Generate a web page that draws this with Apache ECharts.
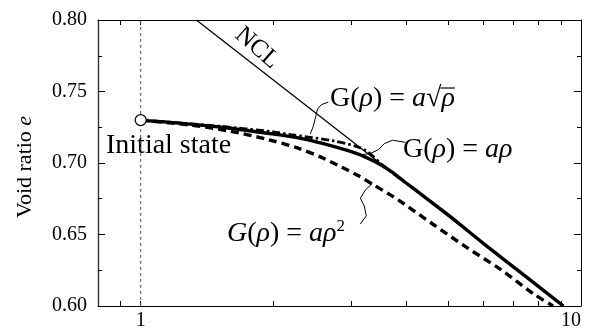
<!DOCTYPE html>
<html>
<head>
<meta charset="utf-8">
<script src="https://cdn.jsdelivr.net/npm/echarts@6/dist/echarts.min.js"></script>
<style>html,body{margin:0;padding:0;background:#fff}#c{width:596px;height:331px}</style>
</head>
<body>
<div id="c"></div>
<script>
// ---- data ----
const xTicks = [0.9, 1, 2, 3, 4, 5, 6, 7, 8, 9, 10];
const xLabels = [1, 10];
const nclX = [1.338, 9.12];
const nclE = [0.80, 0.60];
const linX = [1, 1.3, 1.6, 1.94, 2.31, 2.6, 3.1, 3.4, 3.69, 4.0, 4.39, 5.0, 6.0, 7.5, 9.12];
const linE = [0.730, 0.7272, 0.7243, 0.7208, 0.7172, 0.7135, 0.7066, 0.7010, 0.6945, 0.6862, 0.6768, 0.6635, 0.6438, 0.6205, 0.600];
const sqrtX = [1, 1.5, 2.0, 2.19, 2.74, 3.1, 3.27, 3.56, 4.0];
const sqrtE = [0.730, 0.7258, 0.7218, 0.7198, 0.7155, 0.7115, 0.708, 0.698, 0.686];
const sqX = [1, 1.3, 1.6, 1.94, 2.27, 2.6, 3.1, 3.38, 3.69, 3.89, 4.62, 5.51, 6.55, 7.8, 8.64];
const sqE = [0.730, 0.7265, 0.7222, 0.7165, 0.7105, 0.7033, 0.6916, 0.6847, 0.6777, 0.6731, 0.657, 0.6408, 0.6258, 0.6085, 0.600];
const initX = [1];
const initE = [0.73];
// annotation leader lines (data coords)
const leadSqrtX = [2.668, 2.573, 2.520, 2.500, 2.468, 2.429];
const leadSqrtE = [0.7426, 0.7408, 0.7377, 0.7329, 0.7260, 0.7204];
const leadLinX = [3.99, 3.73, 3.575, 3.465, 3.323, 3.187];
const leadLinE = [0.7145, 0.7159, 0.7135, 0.7093, 0.7066, 0.7059];
const leadSqX = [3.154, 3.254, 3.220, 3.154, 3.237, 3.358];
const leadSqE = [0.6574, 0.6630, 0.6699, 0.6754, 0.6810, 0.6858];

const zip = (a, b) => a.map((v, i) => [v, b[i]]);
const FONT = 'Liberation Serif';
const LBL = 28;

// measure text to place the radical's overbar
const mctx = document.createElement('canvas').getContext('2d');
function w(t, italic) { mctx.font = (italic ? 'italic ' : '') + LBL + 'px "' + FONT + '"'; return mctx.measureText(t).width; }
const sqrtLabelX = 330;
const preW = w('G(') + w('ρ', true) + w(') = ') + w('a', true) + w('√');
const rhoW = w('ρ', true);

const chart = echarts.init(document.getElementById('c'), null, {renderer: 'canvas'});

const xBase = {
  type: 'log', logBase: 10, min: 0.8, max: 10,
  axisLine: {show: true, lineStyle: {color: '#000', width: 1}},
  splitLine: {show: false},
  axisTick: {show: true, inside: true, length: 5, customValues: xTicks, lineStyle: {color: '#000'}},
  minorTick: {show: false}
};
const yBase = {
  type: 'value', min: 0.6, max: 0.8, interval: 0.05,
  axisLine: {show: true, lineStyle: {color: '#000', width: 1}},
  splitLine: {show: false},
  axisTick: {show: true, inside: true, length: 7, lineStyle: {color: '#000'}},
  minorTick: {show: true, splitNumber: 2, length: 4, lineStyle: {color: '#000'}}
};

const ital = {fontFamily: FONT, fontSize: LBL, fontStyle: 'italic', fill: '#000'};
const norm = {fontFamily: FONT, fontSize: LBL, fill: '#000'};

const option = {
  animation: false,
  backgroundColor: '#fff',
  grid: {left: 98, right: 15, top: 20, bottom: 22, containLabel: false},
  xAxis: [
    Object.assign({}, xBase, {position: 'bottom',
      axisLabel: {show: true, customValues: xLabels, margin: 5, fontFamily: FONT, fontSize: 20, color: '#000', alignMaxLabel: 'right',
        formatter: v => String(Math.round(v))}}),
    Object.assign({}, xBase, {position: 'top', axisLabel: {show: false}})
  ],
  yAxis: [
    Object.assign({}, yBase, {position: 'left',
      axisLine: {show: true, lineStyle: {color: '#333', width: 1.4}},
      axisLabel: {show: true, margin: 11, fontFamily: FONT, fontSize: 20, color: '#000', formatter: v => v.toFixed(2)}}),
    Object.assign({}, yBase, {position: 'right', axisLabel: {show: false}})
  ],
  series: [
    {type: 'line', data: [[1, 0.6], [1, 0.8]], symbol: 'none', lineStyle: {color: '#555', width: 1, type: [3, 3]}, z: 1},
    {type: 'line', data: zip(sqX, sqE), symbol: 'none', smooth: 0.3, lineStyle: {color: '#000', width: 3.4, type: [8, 5]}, z: 2},
    {type: 'line', data: zip(sqrtX, sqrtE), symbol: 'none', smooth: 0.3, lineStyle: {color: '#000', width: 2.8, type: [8, 3, 2.5, 3]}, z: 2},
    {type: 'line', data: zip(linX, linE), symbol: 'none', smooth: 0.3, lineStyle: {color: '#000', width: 3.4}, z: 3},
    {type: 'line', data: zip(nclX, nclE), symbol: 'none', lineStyle: {color: '#000', width: 1.3}, z: 3},
    {type: 'lines', coordinateSystem: 'cartesian2d', polyline: true, symbol: ['none', 'arrow'], symbolSize: 7,
      lineStyle: {color: '#000', width: 1, opacity: 1},
      data: [{coords: zip(leadSqrtX, leadSqrtE)}, {coords: zip(leadLinX, leadLinE)}, {coords: zip(leadSqX, leadSqE)}], z: 4},
    {type: 'scatter', data: zip(initX, initE), symbol: 'circle', symbolSize: 11,
      itemStyle: {color: '#fff', borderColor: '#000', borderWidth: 1.2, opacity: 1}, z: 5}
  ],
  graphic: [
    {type: 'text', x: 25, y: 167, rotation: Math.PI / 2, style: {
      text: '{n|Void ratio }{i|e}', align: 'center', verticalAlign: 'middle',
      rich: {n: {fontFamily: FONT, fontSize: 22, fill: '#000'}, i: {fontFamily: FONT, fontSize: 22, fontStyle: 'italic', fill: '#000'}}}},
    {type: 'text', x: 257, y: 48, rotation: -0.72, style: {
      text: 'NCL', align: 'center', verticalAlign: 'middle', fontFamily: FONT, fontSize: 25, fill: '#000'}},
    {type: 'text', x: 106, y: 146, style: {
      text: 'Initial state', align: 'left', verticalAlign: 'middle', fontFamily: FONT, fontSize: 28, fill: '#000'}},
    {type: 'text', x: sqrtLabelX, y: 99, style: {
      text: '{n|G(}{i|ρ}{n|) = }{i|a}{n|√}{i|ρ}', align: 'left', verticalAlign: 'middle', rich: {n: norm, i: ital}}},
    {type: 'line', shape: {x1: sqrtLabelX + preW - 1, y1: 88, x2: sqrtLabelX + preW + rhoW, y2: 88}, style: {stroke: '#000', lineWidth: 1.2}},
    {type: 'text', x: 403, y: 150, style: {
      text: '{n|G(}{i|ρ}{n|) = }{i|aρ}', align: 'left', verticalAlign: 'middle', rich: {n: norm, i: ital}}},
    {type: 'text', x: 227, y: 234, style: {
      text: '{i|G}{n|(}{i|ρ}{n|) = }{i|aρ}{s|2}', align: 'left', verticalAlign: 'middle',
      rich: {n: norm, i: ital, s: {fontFamily: FONT, fontSize: 17, fill: '#000', verticalAlign: 'top', padding: [0, 0, 14, 0]}}}}
  ]
};
chart.setOption(option);
</script>
</body>
</html>
